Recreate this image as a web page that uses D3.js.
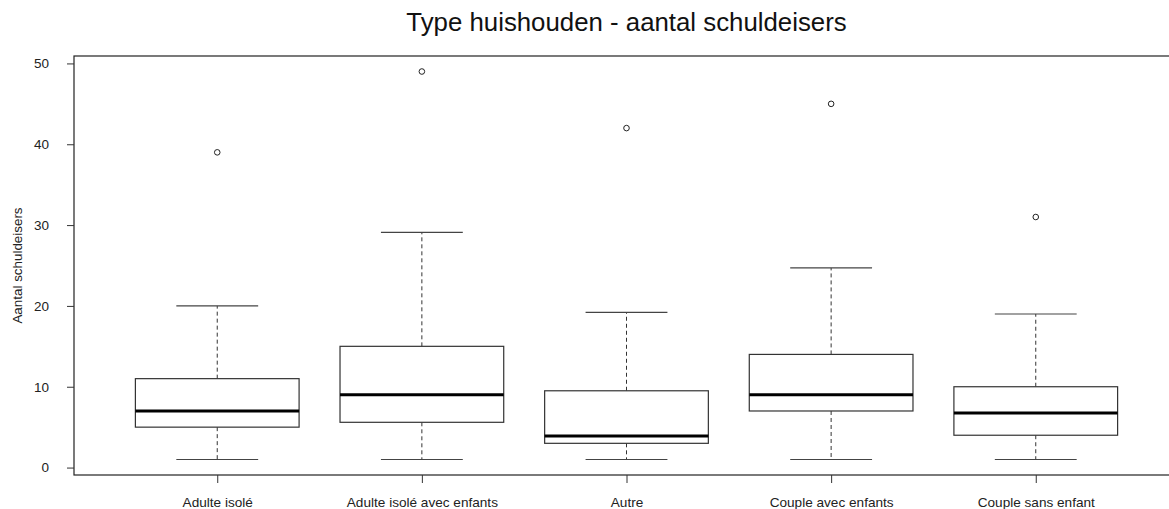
<!DOCTYPE html>
<html>
<head>
<meta charset="utf-8">
<script src="https://cdn.jsdelivr.net/npm/d3@7"></script>
<style>
    body { margin: 0; background: #ffffff; }
    svg { display: block; font-family: "Liberation Sans", Arial, sans-serif; }
    .label { fill: #222222; font-size: 13px; }
</style>
</head>
<body>
<svg id="chart" width="1169" height="509"></svg>
<script>
// Data
const CATEGORIES = ["Adulte isolé", "Adulte isolé avec enfants", "Autre", "Couple avec enfants", "Couple sans enfant"];
const WHISKER_LOW = [1, 1, 1, 1, 1];
const Q1 = [5, 5.6, 3, 7, 4];
const MEDIANS = [7, 9, 3.9, 9, 6.75];
const Q3 = [11, 15, 9.5, 14, 10];
const WHISKER_HIGH = [20, 29.1, 19.2, 24.7, 19];
const OUTLIERS = [39, 49, 42, 45, 31];
const Y_TICKS = [0, 10, 20, 30, 40, 50];

const TITLE = "Type huishouden - aantal schuldeisers";
const Y_LABEL = "Aantal schuldeisers";

const svg = d3.select("#chart");

// R style: boxes at 1..n, limits padded by 4%
const n = CATEGORIES.length;
const xPad = n * 0.04;
const xScale = d3.scaleLinear()
    .domain([0.5 - xPad, n + 0.5 + xPad])
    .range([74, 1179]);

const yMin = d3.min(WHISKER_LOW);
const yMax = d3.max(OUTLIERS);
const yPad = (yMax - yMin) * 0.04;
const yScale = d3.scaleLinear()
    .domain([yMin - yPad, yMax + yPad])
    .range([475, 56]);

const boxData = CATEGORIES.map((cat, i) => {
    return {
        "cat": cat,
        "pos": i + 1,
        "lo": WHISKER_LOW[i],
        "q1": Q1[i],
        "med": MEDIANS[i],
        "q3": Q3[i],
        "hi": WHISKER_HIGH[i],
        "out": OUTLIERS[i]
    };
});

const boxHalf = 0.4;
const capHalf = 0.2;

// plot frame (right side falls outside the picture)
svg.append("rect")
    .attr("x", xScale.range()[0])
    .attr("y", yScale.range()[1])
    .attr("width", xScale.range()[1] - xScale.range()[0])
    .attr("height", yScale.range()[0] - yScale.range()[1])
    .attr("fill", "none")
    .attr("stroke", "#222222")
    .attr("stroke-width", 1.2);

// title
svg.append("text")
    .attr("x", 626.5)
    .attr("y", 31)
    .attr("text-anchor", "middle")
    .style("font-size", "25.8px")
    .style("fill", "#111111")
    .text(TITLE);

// y axis
const yAxis = svg.append("g")
    .attr("transform", "translate(" + (xScale.range()[0] - 8) + ",0)")
    .call(d3.axisLeft(yScale).tickValues(Y_TICKS).tickSize(7).tickPadding(10));
yAxis.select(".domain").remove();
yAxis.selectAll("line").attr("transform", "translate(8,0)").attr("stroke", "#333333");
yAxis.selectAll("text").attr("class", "label").style("font-family", null).style("font-size", "13.5px");

svg.append("text")
    .attr("class", "label")
    .attr("transform", "translate(22," + ((yScale.range()[0] + yScale.range()[1]) / 2) + ") rotate(-90)")
    .attr("text-anchor", "middle")
    .style("font-size", "13.4px")
    .text(Y_LABEL);

// x axis
const xAxis = svg.append("g")
    .attr("transform", "translate(0," + yScale.range()[0] + ")")
    .call(d3.axisBottom(xScale)
        .tickValues(boxData.map((d) => d.pos))
        .tickFormat((d) => CATEGORIES[d - 1])
        .tickSize(8)
        .tickPadding(14));
xAxis.select(".domain").remove();
xAxis.selectAll("line").attr("stroke", "#333333");
xAxis.selectAll("text").attr("class", "label").style("font-family", null).style("font-size", "13.6px");

// boxes
const groups = svg.selectAll(".box")
    .data(boxData)
    .enter()
    .append("g")
    .classed("box", true);

// dashed whiskers
groups.append("line")
    .attr("x1", (d) => xScale(d.pos))
    .attr("x2", (d) => xScale(d.pos))
    .attr("y1", (d) => yScale(d.q3))
    .attr("y2", (d) => yScale(d.hi))
    .attr("stroke", "#333333")
    .attr("stroke-dasharray", "4,3");

groups.append("line")
    .attr("x1", (d) => xScale(d.pos))
    .attr("x2", (d) => xScale(d.pos))
    .attr("y1", (d) => yScale(d.q1))
    .attr("y2", (d) => yScale(d.lo))
    .attr("stroke", "#333333")
    .attr("stroke-dasharray", "4,3");

// whisker caps
["hi", "lo"].forEach((key) => {
    groups.append("line")
        .attr("x1", (d) => xScale(d.pos - capHalf))
        .attr("x2", (d) => xScale(d.pos + capHalf))
        .attr("y1", (d) => yScale(d[key]))
        .attr("y2", (d) => yScale(d[key]))
        .attr("stroke", "#444444")
        .attr("stroke-width", 1.2);
});

// box body
groups.append("rect")
    .attr("x", (d) => xScale(d.pos - boxHalf))
    .attr("y", (d) => yScale(d.q3))
    .attr("width", (d) => xScale(d.pos + boxHalf) - xScale(d.pos - boxHalf))
    .attr("height", (d) => yScale(d.q1) - yScale(d.q3))
    .attr("fill", "#ffffff")
    .attr("stroke", "#333333")
    .attr("stroke-width", 1.2);

// median
groups.append("line")
    .attr("x1", (d) => xScale(d.pos - boxHalf))
    .attr("x2", (d) => xScale(d.pos + boxHalf))
    .attr("y1", (d) => yScale(d.med))
    .attr("y2", (d) => yScale(d.med))
    .attr("stroke", "#000000")
    .attr("stroke-width", 3);

// outliers
groups.append("circle")
    .attr("cx", (d) => xScale(d.pos))
    .attr("cy", (d) => yScale(d.out))
    .attr("r", 2.8)
    .attr("fill", "none")
    .attr("stroke", "#222222")
    .attr("stroke-width", 1);
</script>
</body>
</html>
